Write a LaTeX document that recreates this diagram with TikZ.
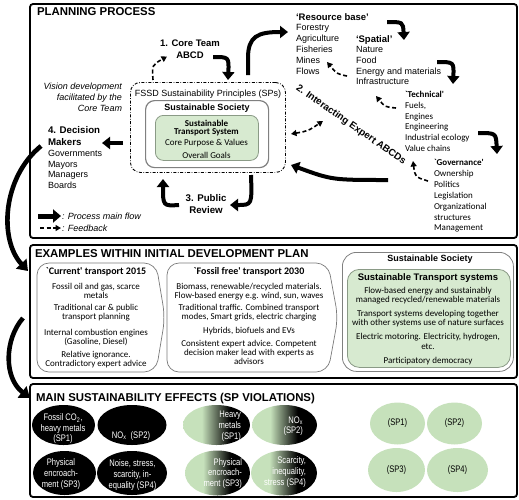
\documentclass[tikz,border=0pt]{standalone}
\usepackage{fontspec}
\setmainfont{Liberation Sans}
\newfontfamily\calfont{Carlito}
\newfontfamily\narrowfont[FakeStretch=0.8]{Liberation Sans}
\usetikzlibrary{arrows.meta,shapes.geometric}
\definecolor{boxgreen}{HTML}{D7EAD0}
\definecolor{ellgreen}{HTML}{C6E1BB}
\definecolor{greenborder}{HTML}{8A9A86}
\definecolor{boxgray}{HTML}{7A7A7A}
\pgfdeclarehorizontalshading{greenblack}{100bp}{color(0bp)=(ellgreen); color(25bp)=(ellgreen); color(39bp)=(ellgreen); color(60bp)=(black); color(75bp)=(black); color(100bp)=(black)}
\tikzset{
 panel/.style={draw, line width=1.8pt, rounded corners=3pt},
 txt/.style={inner sep=0pt, outer sep=0pt},
 ttl/.style={txt, anchor=base west, font=\bfseries\fontsize{11.4}{13}\selectfont},
 mainarrow/.style={line width=4pt, -{Triangle[length=8pt,width=12pt]}},
 bigarrow/.style={line width=4.6pt, -{Triangle[length=10pt,width=14pt]}},
 fbarrow/.style={line width=1.6pt, dash pattern=on 4pt off 2.5pt, -{Triangle[length=5.5pt,width=6pt]}},
 bifbarrow/.style={line width=1.6pt, dash pattern=on 4pt off 2.5pt, {Triangle[length=5.5pt,width=6pt]}-{Triangle[length=5.5pt,width=6pt]}},
 lst/.style={txt, anchor=north west, align=left, font=\fontsize{9}{10.9}\selectfont},
 hdr/.style={txt, anchor=base west, font=\bfseries\fontsize{9.5}{11}\selectfont},
 calhdr/.style={txt, anchor=base west, font=\calfont\bfseries\fontsize{9}{11}\selectfont},
 callst/.style={txt, anchor=north west, align=left, font=\calfont\fontsize{9}{10.85}\selectfont},
 boxtxt/.style={txt, anchor=north, align=center, font=\calfont\fontsize{9}{8.8}\selectfont},
 boxline/.style={txt, anchor=base, font=\calfont\fontsize{9}{8.8}\selectfont},
 boxttl/.style={txt, anchor=base, font=\calfont\bfseries\fontsize{10}{11}\selectfont},
 chev/.style={draw=boxgray, line width=0.7pt, rounded corners=12pt},
 blackell/.style={ellipse, fill=black, inner sep=0pt},
 gradell/.style={ellipse, shading=greenblack, inner sep=0pt},
 greenell/.style={ellipse, fill=ellgreen, inner sep=0pt},
 elltxt/.style={txt, align=center, font=\narrowfont\fontsize{9.5}{10.2}\selectfont},
}
\begin{document}
\begin{tikzpicture}[x=1pt,y=-1pt]
\useasboundingbox (0,0) rectangle (519,499);

% ================= PLANNING PROCESS =================
\draw[panel] (30,4) rectangle (517,238);
\node[ttl] (t1) at (37,15) {PLANNING PROCESS};

\node[txt, anchor=north, align=center, font=\bfseries\fontsize{9.5}{12}\selectfont] (core) at (190,39.6) {1. Core Team\\ABCD};
\node[txt, anchor=north east, align=right, font=\itshape\fontsize{9}{11}\selectfont] (vision) at (122,82.5) {Vision development\\facilitated by the\\Core Team};

\node[draw, line width=0.9pt, dash pattern=on 3pt off 1.6pt on 0.7pt off 1.6pt, rounded corners=10pt, minimum width=155pt, minimum height=90pt, anchor=north west, inner sep=0pt] (fssd) at (130,82) {};
\node[txt, anchor=base, font=\fontsize{9}{11}\selectfont] (fssdt) at (208,96) {FSSD Sustainability Principles (SPs)};
\node[draw=gray, line width=1.2pt, rounded corners=9pt, minimum width=123pt, minimum height=67pt, anchor=north west, inner sep=0pt] (soc) at (145,100) {};
\node[txt, anchor=base, font=\bfseries\fontsize{9}{11}\selectfont] (soct) at (207,110) {Sustainable Society};
\node[draw=greenborder, fill=boxgreen, line width=0.8pt, rounded corners=8pt, minimum width=103pt, minimum height=45pt, anchor=north west, inner sep=0pt] (sts) at (155,115) {};
\node[txt, anchor=base, font=\calfont\bfseries\fontsize{9}{11}\selectfont] (sts1) at (206.5,126.5) {Sustainable};
\node[txt, anchor=base, font=\calfont\bfseries\fontsize{9}{11}\selectfont] (sts2) at (206.5,134.8) {Transport System};
\node[txt, anchor=base, font=\calfont\fontsize{9}{11}\selectfont] (sts3) at (206.5,145.7) {Core Purpose \& Values};
\node[txt, anchor=base, font=\calfont\fontsize{9}{11}\selectfont] (sts4) at (206.5,158.4) {Overall Goals};

\node[txt, anchor=north west, align=left, font=\bfseries\fontsize{9.7}{12}\selectfont] (dm) at (48,126.5) {4. Decision\\Makers};
\node[lst, font=\fontsize{9}{10.8}\selectfont] (dml) at (48,150) {Governments\\Mayors\\Managers\\Boards};

\node[txt, anchor=north, align=center, font=\bfseries\fontsize{9.7}{12}\selectfont] (pr) at (206,194.5) {3. Public\\Review};

% legend
\coordinate (l1a) at (38,216); \coordinate (l1b) at (61,216);
\draw[line width=5pt, -{Triangle[length=8pt,width=13pt]}] (l1a) -- (l1b);
\node[txt, anchor=base west, font=\itshape\fontsize{9}{11}\selectfont] (leg1) at (62,219.5) {: Process main flow};
\coordinate (l2a) at (40,228); \coordinate (l2b) at (61,228);
\draw[fbarrow] (l2a) -- (l2b);
\node[txt, anchor=base west, font=\itshape\fontsize{9}{11}\selectfont] (leg2) at (62,231.5) {: Feedback};

% right-hand lists
\node[hdr] (rb) at (296,20.3) {`Resource base'};
\node[lst] (rbl) at (296,24.5) {Forestry\\Agriculture\\Fisheries\\Mines\\Flows};
\node[hdr] (spt) at (356,42.5) {`Spatial'};
\node[lst, font=\fontsize{9}{10.7}\selectfont] (spl) at (356,46.5) {Nature\\Food\\Energy and materials\\Infrastructure};
\node[calhdr] (te) at (405,97.3) {`Technical'};
\node[callst] (tel) at (405,102) {Fuels,\\Engines\\Engineering\\Industrial ecology\\Value chains};
\node[calhdr] (go) at (434,165.7) {`Governance'};
\node[callst] (gol) at (434,170.4) {Ownership\\Politics\\Legislation\\Organizational\\structures\\Management};

\node[txt, rotate=-35, font=\bfseries\fontsize{9.8}{11}\selectfont] (iea) at (351,125) {2. Interacting Expert ABCDs};

% arrows of the planning process
\coordinate (a1s) at (153,80); \coordinate (a1e) at (167,56.5);
\draw[fbarrow] (a1s) .. controls (152,65) .. (a1e);
\coordinate (a2s) at (213,57); \coordinate (a2e) at (228,80);
\draw[mainarrow] (a2s) .. controls (229,57) .. (a2e);
\coordinate (a3s) at (248,75); \coordinate (a3m) at (248,58); \coordinate (a3e) at (288,32);
\draw[mainarrow] (a3s) -- (a3m) .. controls (248,36) and (258,32) .. (a3e);
\coordinate (a4s) at (387,22); \coordinate (a4e) at (404,40);
\draw[mainarrow] (a4s) .. controls (403,22) .. (a4e);
\coordinate (a5s) at (347,76); \coordinate (a5e) at (327,62);
\draw[fbarrow] (a5s) .. controls (337,74) .. (a5e);
\coordinate (a6s) at (437,62); \coordinate (a6e) at (453,84);
\draw[mainarrow] (a6s) .. controls (454,62) .. (a6e);
\coordinate (a7s) at (396,108); \coordinate (a7e) at (376,96);
\draw[fbarrow] (a7s) .. controls (385,107) .. (a7e);
\coordinate (a8s) at (478,133); \coordinate (a8e) at (497,154);
\draw[mainarrow] (a8s) .. controls (496,133) .. (a8e);
\coordinate (a9s) at (428,181); \coordinate (a9e) at (413,161);
\draw[fbarrow] (a9s) .. controls (415,177) .. (a9e);
\coordinate (a10s) at (388,180); \coordinate (a10e) at (291,165);
\draw[mainarrow] (a10s) .. controls (332,180) .. (a10e);
\coordinate (a11s) at (291,134); \coordinate (a11e) at (323,121);
\draw[bifbarrow] (a11s) .. controls (308,131) .. (a11e);
\coordinate (a12s) at (123,143); \coordinate (a12e) at (102,143);
\draw[mainarrow] (a12s) -- (a12e);
\coordinate (a13s) at (179,205); \coordinate (a13e) at (163,179);
\draw[mainarrow] (a13s) .. controls (163,206) .. (a13e);
\coordinate (a14s) at (251,175); \coordinate (a14e) at (230,205);
\draw[mainarrow] (a14s) .. controls (252,205) .. (a14e);

% big arrows between panels
\coordinate (bAs) at (41,146); \coordinate (bAe) at (28,271);
\draw[bigarrow] (bAs) .. controls (2,178) and (-1,240) .. (bAe);
\coordinate (bBs) at (23,318); \coordinate (bBe) at (30,398);
\draw[bigarrow] (bBs) .. controls (4,340) and (4,378) .. (bBe);

% ================= EXAMPLES =================
\draw[panel] (30,245) rectangle (517,378);
\node[ttl] (t2) at (35,257.5) {EXAMPLES WITHIN INITIAL DEVELOPMENT PLAN};

\draw[chev] (37,263) -- (156,263) -- (165,317.5) -- (156,372) -- (37,372) -- cycle;
\node[boxttl] (c0) at (96,274.3) {`Current' transport 2015};
\node[boxtxt] (c1) at (96,283) {Fossil oil and gas, scarce\\metals};
\node[boxtxt] (c2) at (96,304.4) {Traditional car \& public\\transport planning};
\node[boxtxt] (c3) at (96,329.4) {Internal combustion engines\\(Gasoline, Diesel)};
\node[boxtxt] (c4) at (96,351) {Relative ignorance.\\Contradictory expert advice};

\draw[chev] (167,263) -- (328,263) -- (338,317.5) -- (328,372) -- (167,372) -- cycle;
\node[boxttl] (f0) at (249,274.3) {`Fossil free' transport 2030};
\node[boxtxt] (f1) at (249,283) {Biomass, renewable/recycled materials.\\Flow-based energy e.g. wind, sun, waves};
\node[boxtxt] (f2) at (249,304.4) {Traditional traffic. Combined transport\\modes, Smart grids, electric charging};
\node[boxline] (f3) at (249,333) {Hybrids, biofuels and EVs};
\node[boxtxt] (f4) at (249,340.4) {Consistent expert advice. Competent\\decision maker lead with experts as\\advisors};

\node[draw=gray, line width=0.8pt, rounded corners=14pt, minimum width=171pt, minimum height=119pt, anchor=north west, inner sep=0pt] (ss2) at (342,252) {};
\node[txt, anchor=base, font=\bfseries\fontsize{9}{11}\selectfont] (ss2t) at (430,261.7) {Sustainable Society};
\node[draw=greenborder, fill=boxgreen, line width=0.8pt, rounded corners=12pt, minimum width=163pt, minimum height=98pt, anchor=north west, inner sep=0pt] (stsb) at (347,269) {};
\node[txt, anchor=base, font=\bfseries\fontsize{9.5}{11}\selectfont] (stsbt) at (428,280) {Sustainable Transport systems};
\node[boxtxt, font=\calfont\fontsize{9}{9.4}\selectfont] (s1) at (428,287) {Flow-based energy and sustainably\\managed recycled/renewable materials};
\node[boxtxt, font=\calfont\fontsize{9}{9.2}\selectfont] (s2) at (428,310.4) {Transport systems developing together\\with other systems use of nature surfaces};
\node[boxtxt, font=\calfont\fontsize{9}{9.3}\selectfont] (s3) at (428,333.7) {Electric motoring. Electricity, hydrogen,\\etc.};
\node[boxline] (s4) at (428,363.3) {Participatory democracy};

% ================= EFFECTS =================
\draw[panel] (30,384) rectangle (517,497);
\node[ttl] (t3) at (36,401.5) {MAIN SUSTAINABILITY EFFECTS (SP VIOLATIONS)};

\node[blackell, minimum width=63pt, minimum height=40pt] (e1) at (63.5,425) {};
\node[blackell, minimum width=69pt, minimum height=40pt] (e2) at (132,425) {};
\node[blackell, minimum width=63pt, minimum height=44pt] (e3) at (64.5,473) {};
\node[blackell, minimum width=70pt, minimum height=44pt] (e4) at (132,473) {};
\node[elltxt, white, anchor=north] (e1t) at (63,414) {Fossil CO\textsubscript{2},\\heavy metals\\(SP1)};
\node[elltxt, white, anchor=base] (e2t) at (131,438.3) {NO\textsubscript{x}\ \ (SP2)};
\node[elltxt, white, anchor=north, font=\narrowfont\fontsize{9.5}{11}\selectfont] (e3t) at (61,458.9) {Physical\\encroach-\\ment (SP3)};
\node[elltxt, white, anchor=north, font=\narrowfont\fontsize{9.5}{11}\selectfont] (e4t) at (132.5,459.2) {Noise, stress,\\scarcity, in-\\equality (SP4)};

\node[gradell, minimum width=67pt, minimum height=40pt] (g1) at (216.5,425) {};
\node[gradell, minimum width=65pt, minimum height=40pt] (g2) at (284.5,425) {};
\node[gradell, minimum width=65pt, minimum height=45pt] (g3) at (217.5,473) {};
\node[gradell, minimum width=66pt, minimum height=45pt] (g4) at (284,473) {};
\node[elltxt, white, anchor=north east, align=right, font=\narrowfont\fontsize{9.5}{10.8}\selectfont] (g1t) at (241,410.9) {Heavy\\metals\\(SP1)};
\node[elltxt, white, anchor=north east, align=right, font=\narrowfont\fontsize{9.5}{10}\selectfont] (g2t) at (303,416.5) {NO\textsubscript{x}\\(SP2)};
\node[elltxt, white, anchor=north east, align=right, font=\narrowfont\fontsize{9.5}{10.7}\selectfont] (g3t) at (242,458.2) {Physical\\encroach-\\ment (SP3)};
\node[elltxt, white, anchor=north east, align=right, font=\narrowfont\fontsize{9.5}{10.9}\selectfont] (g4t) at (306,456.5) {Scarcity,\\inequality,\\stress (SP4)};

\node[greenell, minimum width=55pt, minimum height=42pt] (n1) at (397.5,423.5) {};
\node[greenell, minimum width=55pt, minimum height=42pt] (n2) at (454.5,423.5) {};
\node[greenell, minimum width=57pt, minimum height=44pt] (n3) at (396.5,470) {};
\node[greenell, minimum width=61pt, minimum height=44pt] (n4) at (457.5,470) {};
\node[elltxt] (n1t) at (n1.center) {(SP1)};
\node[elltxt] (n2t) at (n2.center) {(SP2)};
\node[elltxt] (n3t) at (n3.center) {(SP3)};
\node[elltxt] (n4t) at (n4.center) {(SP4)};
\end{tikzpicture}
\end{document}
